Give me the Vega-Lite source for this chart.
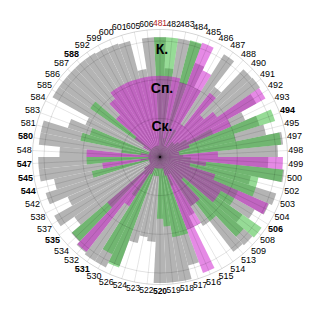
{
  "$schema": "https://vega.github.io/schema/vega-lite/v6.json",
  "width": 320,
  "height": 320,
  "autosize": {"type": "fit", "contains": "padding"},
  "padding": {"left": 0, "right": 0, "top": 0, "bottom": 6},
  "background": "white",
  "config": {"view": {"stroke": null}},
  "datasets": {
    "cats": [
      {"c": "481", "g": 3.1, "gr": 3.1, "m": 2.1},
      {"c": "482", "g": 2.3, "gr": 3.1, "m": 2.1},
      {"c": "483", "g": 3.1, "gr": 0.5, "m": 2.1},
      {"c": "484", "g": 3.1, "gr": 3.12, "m": 2.0},
      {"c": "485", "g": 2.6, "gr": 0.3, "m": 3.15},
      {"c": "486", "g": 2.0, "gr": 0.8, "m": 2.5},
      {"c": "487", "g": 3.13, "gr": 0.3, "m": 1.0},
      {"c": "488", "g": 2.3, "gr": 0.5, "m": 2.1},
      {"c": "490", "g": 3.13, "gr": 0.5, "m": 1.5},
      {"c": "491", "g": 3.15, "gr": 0.6, "m": 1.8},
      {"c": "492", "g": 2.85, "gr": 0.8, "m": 3.12},
      {"c": "493", "g": 2.4, "gr": 1.5, "m": 2.0},
      {"c": "494", "g": 2.7, "gr": 3.12, "m": 0.8},
      {"c": "495", "g": 2.8, "gr": 2.0, "m": 0.5},
      {"c": "497", "g": 3.2, "gr": 3.15, "m": 0.5},
      {"c": "498", "g": 3.05, "gr": 0.6, "m": 1.5},
      {"c": "499", "g": 2.8, "gr": 0.8, "m": 3.18},
      {"c": "500", "g": 3.23, "gr": 3.2, "m": 1.2},
      {"c": "502", "g": 2.4, "gr": 2.6, "m": 0.8},
      {"c": "503", "g": 3.15, "gr": 2.6, "m": 1.5},
      {"c": "504", "g": 3.07, "gr": 2.2, "m": 3.05},
      {"c": "506", "g": 2.8, "gr": 2.2, "m": 1.8},
      {"c": "508", "g": 2.6, "gr": 3.2, "m": 1.8},
      {"c": "509", "g": 3.15, "gr": 2.85, "m": 0.8},
      {"c": "513", "g": 3.1, "gr": 2.1, "m": 1.5},
      {"c": "514", "g": 2.1, "gr": 1.5, "m": 1.5},
      {"c": "515", "g": 1.7, "gr": 0.5, "m": 2.0},
      {"c": "516", "g": 2.0, "gr": 0.8, "m": 3.2},
      {"c": "517", "g": 2.9, "gr": 2.1, "m": 0.5},
      {"c": "518", "g": 3.26, "gr": 2.1, "m": 0.3},
      {"c": "519", "g": 3.26, "gr": 1.8, "m": 0.3},
      {"c": "520", "g": 3.26, "gr": 1.6, "m": 0.3},
      {"c": "522", "g": 2.2, "gr": 0.5, "m": 0.3},
      {"c": "523", "g": 2.1, "gr": 0.5, "m": 0.3},
      {"c": "524", "g": 2.3, "gr": 0.5, "m": 0.3},
      {"c": "526", "g": 3.0, "gr": 3.05, "m": 0.3},
      {"c": "530", "g": 3.18, "gr": 2.8, "m": 0.5},
      {"c": "531", "g": 3.18, "gr": 1.2, "m": 1.5},
      {"c": "532", "g": 3.13, "gr": 0.6, "m": 3.1},
      {"c": "534", "g": 3.02, "gr": 3.0, "m": 1.8},
      {"c": "535", "g": 2.7, "gr": 0.5, "m": 0.5},
      {"c": "537", "g": 3.13, "gr": 0.3, "m": 0.3},
      {"c": "538", "g": 2.6, "gr": 0.3, "m": 0.3},
      {"c": "542", "g": 3.1, "gr": 0.3, "m": 0.3},
      {"c": "544", "g": 2.8, "gr": 1.8, "m": 0.3},
      {"c": "545", "g": 3.15, "gr": 0.5, "m": 1.5},
      {"c": "547", "g": 3.15, "gr": 1.9, "m": 0.3},
      {"c": "548", "g": 2.6, "gr": 0.3, "m": 1.9},
      {"c": "580", "g": 3.15, "gr": 1.0, "m": 0.5},
      {"c": "581", "g": 3.15, "gr": 2.1, "m": 0.3},
      {"c": "583", "g": 2.5, "gr": 1.9, "m": 0.3},
      {"c": "584", "g": 2.1, "gr": 0.3, "m": 0.3},
      {"c": "585", "g": 3.18, "gr": 0.3, "m": 0.5},
      {"c": "586", "g": 3.18, "gr": 2.2, "m": 0.8},
      {"c": "587", "g": 3.18, "gr": 0.3, "m": 1.5},
      {"c": "588", "g": 3.18, "gr": 0.3, "m": 1.9},
      {"c": "592", "g": 3.18, "gr": 0.3, "m": 2.1},
      {"c": "599", "g": 3.15, "gr": 0.3, "m": 2.1},
      {"c": "600", "g": 3.13, "gr": 0.3, "m": 2.1},
      {"c": "601", "g": 3.1, "gr": 0.3, "m": 2.1},
      {"c": "605", "g": 2.3, "gr": 0.3, "m": 2.1},
      {"c": "606", "g": 3.1, "gr": 0.3, "m": 2.1}
    ],
    "rings": [
      {"level": 1, "name": "Ск."},
      {"level": 2, "name": "Сп."},
      {"level": 3, "name": "К."},
      {"level": 3.3, "name": ""}
    ]
  },
  "data": {"name": "cats"},
  "layer": [
    {
      "layer": [
        {
          "mark": {"type": "arc", "fill": "#b4b4b4"},
          "encoding": {
            "theta": {"field": "c", "type": "ordinal", "scale": {"range": [-0.050671, 6.232514]}},
            "radius": {"field": "g", "type": "quantitative", "scale": {"type": "linear", "domain": [0, 3.3], "range": [0, 127.6]}}
          }
        },
        {
          "mark": {"type": "arc", "fill": "#2eb82e", "fillOpacity": 0.5},
          "encoding": {
            "theta": {"field": "c", "type": "ordinal"},
            "radius": {"field": "gr", "type": "quantitative"}
          }
        },
        {
          "mark": {"type": "arc", "fill": "#cc15cc", "fillOpacity": 0.5},
          "encoding": {
            "theta": {"field": "c", "type": "ordinal"},
            "radius": {"field": "m", "type": "quantitative"}
          }
        },
        {
          "transform": [{"filter": "indexof(['517','518','519','520','522','523','524','605','606','481','482','494','506','531','535','544','545','547','580','588'], datum.c) < 0"}],
          "mark": {"type": "text", "radius": 136, "font": "Liberation Sans", "fontSize": 9, "color": "black"},
          "encoding": {
            "theta": {"field": "c", "type": "ordinal"},
            "text": {"field": "c"}
          }
        },
        {
          "transform": [{"filter": "indexof(['494','506','531','535','544','545','547','580','588'], datum.c) >= 0"}],
          "mark": {"type": "text", "radius": 136, "font": "Liberation Sans", "fontSize": 9, "fontWeight": "bold", "color": "black"},
          "encoding": {
            "theta": {"field": "c", "type": "ordinal"},
            "text": {"field": "c"}
          }
        },
        {
          "transform": [{"filter": "indexof(['517','518','519','522','523','524'], datum.c) >= 0"}],
          "mark": {"type": "text", "radius": 134, "font": "Liberation Sans", "fontSize": 8.5, "color": "black"},
          "encoding": {
            "theta": {"field": "c", "type": "ordinal"},
            "text": {"field": "c"}
          }
        },
        {
          "transform": [{"filter": "datum.c == '520'"}],
          "mark": {"type": "text", "radius": 134, "font": "Liberation Sans", "fontSize": 8.5, "fontWeight": "bold", "color": "black"},
          "encoding": {
            "theta": {"field": "c", "type": "ordinal"},
            "text": {"field": "c"}
          }
        },
        {
          "transform": [{"filter": "indexof(['605','606','481','482'], datum.c) >= 0"}],
          "mark": {"type": "text", "radius": 134, "font": "Liberation Sans", "fontSize": 8.5},
          "encoding": {
            "theta": {"field": "c", "type": "ordinal"},
            "text": {"field": "c"},
            "color": {"condition": {"test": "datum.c == '481'", "value": "#b22222"}, "value": "black"}
          }
        }
      ]
    },
    {
      "mark": {"type": "arc", "fill": "white", "fillOpacity": 0, "stroke": "black", "strokeOpacity": 0.05, "strokeWidth": 1},
      "encoding": {
        "theta": {"field": "c", "type": "ordinal", "scale": {"range": [0, 6.283185]}},
        "radius": {"datum": 3.3, "type": "quantitative"}
      }
    },
    {
      "data": {"name": "rings"},
      "mark": {"type": "arc", "fill": "white", "fillOpacity": 0, "stroke": "black", "strokeOpacity": 0.06, "strokeWidth": 1},
      "encoding": {
        "theta": {"value": 0},
        "theta2": {"value": 6.2832},
        "radius": {"field": "level", "type": "quantitative"},
        "radius2": {"field": "level"}
      }
    },
    {
      "data": {"name": "rings"},
      "transform": [{"filter": "datum.name != ''"}],
      "mark": {"type": "text", "font": "Liberation Sans", "fontSize": 14, "fontWeight": "bold", "baseline": "top", "dy": 2, "dx": 2, "color": "black"},
      "encoding": {
        "theta": {"value": 0},
        "radius": {"field": "level", "type": "quantitative"},
        "text": {"field": "name"}
      }
    }
  ],
  "resolve": {"scale": {"theta": "independent"}}
}
